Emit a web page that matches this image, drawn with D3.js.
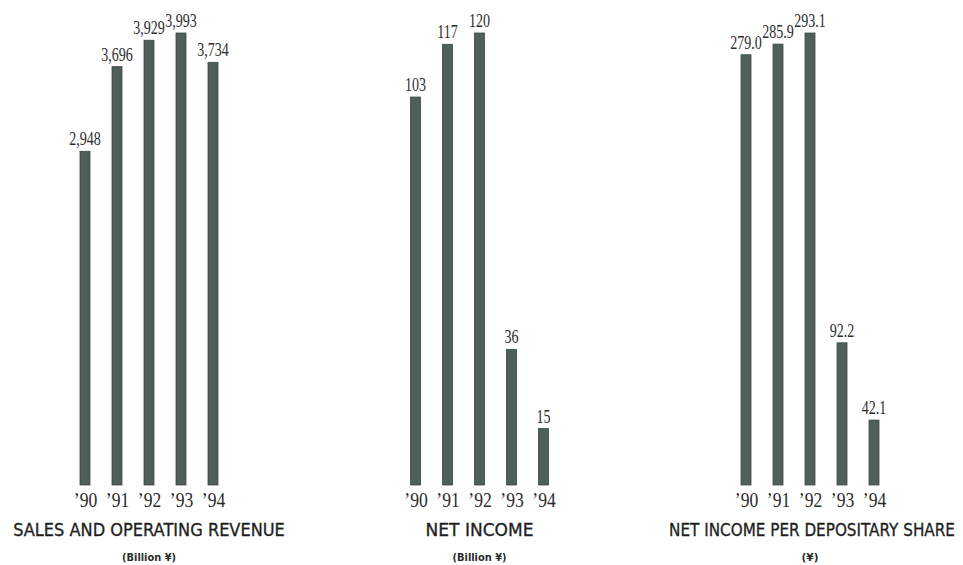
<!DOCTYPE html>
<html>
<head>
<meta charset="utf-8">
<script src="https://cdn.jsdelivr.net/npm/d3@7"></script>
<style>
  body { margin: 0; background: #fff; }
  svg { display: block; }
</style>
</head>
<body>
<div id="chart"></div>
<script>
(function(){
    // data
    const years = ["\u201990", "\u201991", "\u201992", "\u201993", "\u201994"];
    const salesRevenue = [2948, 3696, 3929, 3993, 3734];
    const netIncome = [103, 117, 120, 36, 15];
    const perShare = [279.0, 285.9, 293.1, 92.2, 42.1];

    const titles = ["SALES AND OPERATING REVENUE", "NET INCOME", "NET INCOME PER DEPOSITARY SHARE"];
    const units = ["(Billion \u00a5)", "(Billion \u00a5)", "(\u00a5)"];

    const width = 963;
    const height = 565;
    const baseline = 485;
    const topY = 33;
    const barW = 10;

    const svg = d3.select("#chart").append("svg")
        .attr("width", width)
        .attr("height", height);

    // one entry per panel: values, label format, centre x, title placement
    const panels = [
        { values: salesRevenue, fmt: d3.format(","), cx: 149, titleX: 149, titleW: 272, unitW: 54 },
        { values: netIncome, fmt: d3.format("d"), cx: 479.5, titleX: 479.5, titleW: 108, unitW: 54 },
        { values: perShare, fmt: d3.format(".1f"), cx: 810, titleX: 812, titleW: 286, unitW: 17 }
    ];

    // squeeze a centred text horizontally to a target width
    function fitText(sel, cx, cy, w) {
        const natural = sel.node().getComputedTextLength();
        sel.attr("transform", `translate(${cx},${cy}) scale(${w / natural},1)`);
    }

    panels.forEach((p, i) => {
        const g = svg.append("g");

        const x = d3.scalePoint()
            .domain(years)
            .range([p.cx - 64, p.cx + 64]);

        const y = d3.scaleLinear()
            .domain([0, d3.max(p.values)])
            .range([baseline, topY]);

        const rows = years.map((yr, j) => ({ year: yr, value: p.values[j] }));

        // bars
        g.selectAll("rect")
            .data(rows)
            .enter().append("rect")
            .attr("x", d => x(d.year) - barW / 2)
            .attr("y", d => y(d.value))
            .attr("width", barW)
            .attr("height", d => baseline - y(d.value))
            .attr("fill", "#4f5f5a")
            .attr("stroke", "#3c4844")
            .attr("stroke-width", 0.8);

        // value labels (narrow old-style serif look)
        g.selectAll("text.value")
            .data(rows)
            .enter().append("text")
            .attr("class", "value")
            .attr("transform", d => `translate(${x(d.year)},${y(d.value) - 6}) scale(0.78,1)`)
            .attr("text-anchor", "middle")
            .style("font-family", "'Liberation Serif', serif")
            .style("font-size", "18px")
            .style("fill", "#2b2b2b")
            .text(d => p.fmt(d.value));

        // year axis labels
        const axis = d3.axisBottom(x).tickSize(0).tickPadding(0);
        const ax = g.append("g")
            .attr("transform", `translate(0,${baseline})`)
            .call(axis);
        ax.select(".domain").remove();
        ax.selectAll("text")
            .attr("dy", null)
            .attr("y", 22)
            .attr("transform", "scale(0.88,1)")
            .style("font-family", "'Liberation Serif', serif")
            .style("font-size", "20px")
            .style("fill", "#2b2b2b");

        // title
        const title = g.append("text")
            .attr("text-anchor", "middle")
            .style("font-family", "'DejaVu Sans', sans-serif")
            .style("font-size", "18px")
            .style("fill", "#1e1e1e")
            .style("stroke", "#1e1e1e")
            .style("stroke-width", 0.35)
            .text(titles[i]);
        fitText(title, p.titleX, 536, p.titleW);

        // units
        const unit = g.append("text")
            .attr("text-anchor", "middle")
            .style("font-family", "'DejaVu Sans', sans-serif")
            .style("font-size", "11px")
            .style("font-weight", "bold")
            .style("fill", "#2b2b2b")
            .text(units[i]);
        fitText(unit, p.cx, 561, p.unitW);
    });
})();
</script>
</body>
</html>
